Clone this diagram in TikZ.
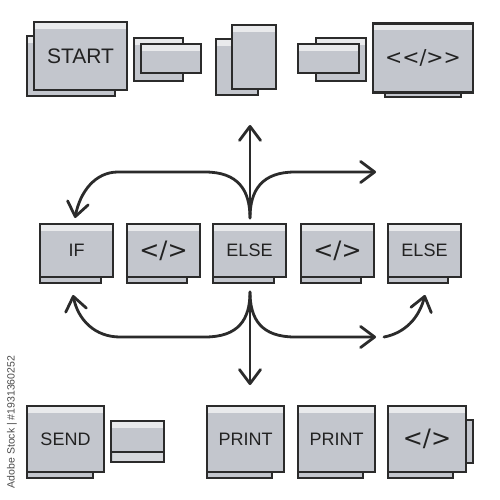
\documentclass[tikz,border=0pt]{standalone}
\usepackage{fontspec}
\setmainfont{Liberation Sans}
\newfontfamily\dv{DejaVu Sans}
\usetikzlibrary{arrows.meta,calc}
\definecolor{boxfill}{HTML}{C3C6CD}
\definecolor{boxhl}{HTML}{E9EAEC}
\definecolor{boxlow}{HTML}{D6D8DC}
\definecolor{ink}{HTML}{2B2B2B}
\definecolor{txt}{HTML}{222222}
\begin{document}
\begin{tikzpicture}[x=1pt,y=-1pt,
  plain/.style={draw=ink, fill=boxfill, line width=2.9pt, inner sep=0pt, outer sep=0pt},
  box/.style={plain, path picture={\fill[boxhl] (path picture bounding box.north west) rectangle ([yshift=-7pt]path picture bounding box.north east);}, text=txt, font=\fontsize{18}{20}\selectfont},
  code/.style={font=\dv\fontsize{24}{28}\selectfont},
  wh/.style 2 args={minimum width=#1pt, minimum height=#2pt},
  arr/.style={draw=ink, line width=2.8pt, line cap=round, -{Straight Barb[length=14pt,width=21pt,line cap=round,line join=round]}},
  ln/.style={draw=ink, line width=2.9pt}
  ]
\useasboundingbox (0,0) rectangle (500,500);

% ---------- top row ----------
\node[box, wh={88}{60}] (start-back) at (71,66) {};
\node[box, wh={93}{68}, font=\fontsize{21}{24}\selectfont] (start) at (80.5,56) {START};
\node[box, wh={49}{43}] (p1-back) at (158.5,59.5) {};
\node[box, wh={60}{29}] (p1) at (171,58.5) {};
\node[box, wh={42}{56}] (p2-back) at (237,67) {};
\node[box, wh={44}{64}] (p2) at (254,57) {};
\node[box, wh={50}{43}] (p3-back) at (341,59.5) {};
\node[box, wh={61}{29}] (p3) at (328.5,58.5) {};
\node[plain, wh={76}{12}] (code-sh) at (423,91) {};
\node[box, wh={100}{69}, font=\dv\fontsize{20.5}{24}\selectfont] (code) at (423,58) {<\kern0pt<\kern0pt/\kern0pt>\kern0pt>};

% ---------- middle row ----------
\node[plain, wh={61}{12}] (if-sh) at (70.5,277) {};
\node[box, wh={73}{53}] (if) at (76.5,250.5) {IF};
\node[plain, wh={60}{12}] (c1-sh) at (157,277) {};
\node[box, wh={73}{53}, code] (c1) at (163.5,250.5) {</>};
\node[plain, wh={61}{12}] (else1-sh) at (243.5,277) {};
\node[box, wh={73}{53}] (else1) at (249.5,250.5) {ELSE};
\node[plain, wh={60}{12}] (c2-sh) at (331,277) {};
\node[box, wh={73}{53}, code] (c2) at (337.5,250.5) {</>};
\node[plain, wh={60}{12}] (else2-sh) at (418,277) {};
\node[box, wh={73}{53}] (else2) at (424.5,250.5) {ELSE};

% ---------- bottom row ----------
\node[plain, wh={66}{12}] (send-sh) at (60,472) {};
\node[box, wh={77}{66}] (send) at (65.5,439) {SEND};
\node[box, wh={53}{41}] (small) at (137.5,441.5) {};
\fill[boxlow] ($(small.south west)+(1.5,-1.5)$) rectangle ($(small.east)+(-1.5,10.5)$);
\draw[ln] ($(small.west)+(0,10.5)$) -- ($(small.east)+(0,10.5)$);
\draw[ln] (small.south west) rectangle (small.north east);
\node[plain, wh={65}{12}] (print1-sh) at (239.5,472) {};
\node[box, wh={77}{66}] (print1) at (245.5,439) {PRINT};
\node[plain, wh={65}{12}] (print2-sh) at (330.5,472) {};
\node[box, wh={77}{66}] (print2) at (336.5,439) {PRINT};
\node[plain, wh={65}{12}] (c3-sh) at (420.5,472) {};
\node[plain, wh={13}{43}] (c3-tab) at (466.5,441.5) {};
\node[box, wh={78}{66}, code] (c3) at (427,439) {</>};

% ---------- arrows ----------
\coordinate (hubU) at (250,218);
\coordinate (upT) at (250,125);
\coordinate (ulT) at (75,218);
\coordinate (urT) at (376,172);
\draw[arr] (hubU) -- (upT);
\draw[arr] (hubU) .. controls (250,190) and (238,172) .. (205,172) -- (118,172) .. controls (95,172) and (80,192) .. (ulT);
\draw[arr] (hubU) .. controls (250,190) and (262,172) .. (295,172) -- (urT);

\coordinate (hubD) at (250,292);
\coordinate (dnT) at (250,385);
\coordinate (dlT) at (73,295);
\coordinate (drT) at (376,337);
\coordinate (arcS) at (384,337);
\coordinate (arcT) at (425,295);
\draw[arr] (hubD) -- (dnT);
\draw[arr] (hubD) .. controls (250,320) and (238,337) .. (205,337) -- (120,337) .. controls (95,337) and (78,320) .. (dlT);
\draw[arr] (hubD) .. controls (250,320) and (262,337) .. (295,337) -- (drT);
\draw[arr] (arcS) .. controls (405,333) and (419,318) .. (arcT);

% ---------- side text ----------
\node[rotate=90, text=black!70, font=\fontsize{10.5}{12}\selectfont] (wm) at (12,422) {Adobe Stock | \#1931360252};
\end{tikzpicture}
\end{document}
